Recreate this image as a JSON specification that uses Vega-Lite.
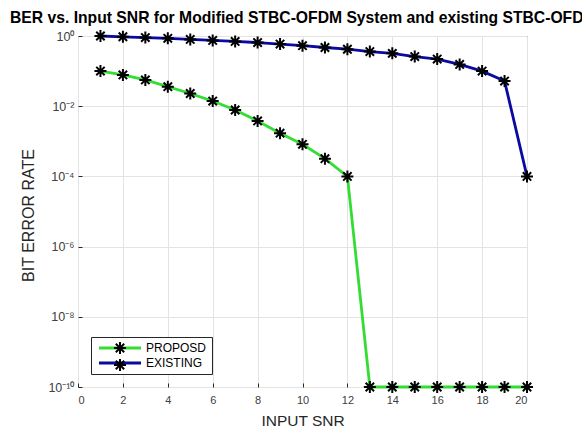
{
  "$schema": "https://vega.github.io/schema/vega-lite/v6.json",
  "width": 449,
  "height": 351,
  "autosize": {"type": "none"},
  "padding": {"left": 78, "top": 36, "right": 55, "bottom": 43},
  "background": "white",
  "config": {
    "font": "Liberation Sans",
    "view": {"stroke": "#262626", "strokeWidth": 1},
    "axis": {
      "domain": false,
      "gridColor": "#e3e3e3",
      "gridWidth": 1,
      "labelColor": "#404040",
      "labelFontSize": 11,
      "titleColor": "#262626",
      "titleFontWeight": "normal",
      "titleFontSize": 15.5,
      "tickColor": "#262626",
      "tickSize": -4
    }
  },
  "title": {
    "text": "BER vs. Input SNR for Modified STBC-OFDM System and existing STBC-OFDM System",
    "anchor": "start",
    "frame": "group",
    "dx": -68,
    "dy": 24,
    "offset": 11,
    "baseline": "alphabetic",
    "fontSize": 15.7,
    "fontWeight": "bold",
    "color": "#000000"
  },
  "data": {
    "values": [
      {"snr": 1, "ber": 0.1, "series": "PROPOSD"},
      {"snr": 2, "ber": 0.078, "series": "PROPOSD"},
      {"snr": 3, "ber": 0.056, "series": "PROPOSD"},
      {"snr": 4, "ber": 0.036, "series": "PROPOSD"},
      {"snr": 5, "ber": 0.023, "series": "PROPOSD"},
      {"snr": 6, "ber": 0.014, "series": "PROPOSD"},
      {"snr": 7, "ber": 0.0078, "series": "PROPOSD"},
      {"snr": 8, "ber": 0.0038, "series": "PROPOSD"},
      {"snr": 9, "ber": 0.0017, "series": "PROPOSD"},
      {"snr": 10, "ber": 0.00082, "series": "PROPOSD"},
      {"snr": 11, "ber": 0.00032, "series": "PROPOSD"},
      {"snr": 12, "ber": 0.0001, "series": "PROPOSD"},
      {"snr": 13, "ber": 1e-10, "series": "PROPOSD"},
      {"snr": 14, "ber": 1e-10, "series": "PROPOSD"},
      {"snr": 15, "ber": 1e-10, "series": "PROPOSD"},
      {"snr": 16, "ber": 1e-10, "series": "PROPOSD"},
      {"snr": 17, "ber": 1e-10, "series": "PROPOSD"},
      {"snr": 18, "ber": 1e-10, "series": "PROPOSD"},
      {"snr": 19, "ber": 1e-10, "series": "PROPOSD"},
      {"snr": 20, "ber": 1e-10, "series": "PROPOSD"},
      {"snr": 1, "ber": 1.0, "series": "EXISTING"},
      {"snr": 2, "ber": 0.95, "series": "EXISTING"},
      {"snr": 3, "ber": 0.9, "series": "EXISTING"},
      {"snr": 4, "ber": 0.86, "series": "EXISTING"},
      {"snr": 5, "ber": 0.8, "series": "EXISTING"},
      {"snr": 6, "ber": 0.75, "series": "EXISTING"},
      {"snr": 7, "ber": 0.7, "series": "EXISTING"},
      {"snr": 8, "ber": 0.65, "series": "EXISTING"},
      {"snr": 9, "ber": 0.59, "series": "EXISTING"},
      {"snr": 10, "ber": 0.53, "series": "EXISTING"},
      {"snr": 11, "ber": 0.47, "series": "EXISTING"},
      {"snr": 12, "ber": 0.42, "series": "EXISTING"},
      {"snr": 13, "ber": 0.36, "series": "EXISTING"},
      {"snr": 14, "ber": 0.32, "series": "EXISTING"},
      {"snr": 15, "ber": 0.26, "series": "EXISTING"},
      {"snr": 16, "ber": 0.22, "series": "EXISTING"},
      {"snr": 17, "ber": 0.155, "series": "EXISTING"},
      {"snr": 18, "ber": 0.1, "series": "EXISTING"},
      {"snr": 19, "ber": 0.052, "series": "EXISTING"},
      {"snr": 20, "ber": 0.0001, "series": "EXISTING"}
    ]
  },
  "encoding": {
    "x": {
      "field": "snr",
      "type": "quantitative",
      "scale": {"domain": [0, 20], "nice": false},
      "axis": {
        "values": [0, 2, 4, 6, 8, 10, 12, 14, 16, 18, 20],
        "title": "INPUT SNR",
        "titleX": 224.5,
        "titleY": 38,
        "titleBaseline": "alphabetic",
        "labelPadding": 11,
        "grid": true
      }
    },
    "y": {
      "field": "ber",
      "type": "quantitative",
      "scale": {"type": "log", "domain": [1e-10, 1], "nice": false},
      "axis": {
        "values": [1e-10, 1e-8, 1e-6, 1e-4, 1e-2, 1],
        "labelExpr": "datum.value >= 0.5 ? '10⁰' : datum.value >= 5e-3 ? '10⁻²' : datum.value >= 5e-5 ? '10⁻⁴' : datum.value >= 5e-7 ? '10⁻⁶' : datum.value >= 5e-9 ? '10⁻⁸' : '10⁻¹⁰'",
        "labelFontSize": 12.5,
        "title": "BIT ERROR RATE",
        "titleFontSize": 16,
        "titleX": -44.7,
        "titleY": 179,
        "titleAngle": -90,
        "titleBaseline": "alphabetic",
        "labelPadding": 8,
        "grid": true
      }
    }
  },
  "layer": [
    {
      "mark": {"type": "line", "strokeWidth": 2.8},
      "encoding": {
        "color": {
          "field": "series",
          "type": "nominal",
          "scale": {"domain": ["PROPOSD", "EXISTING"], "range": ["#33dd33", "#0a0aa0"]},
          "legend": {
            "title": null,
            "orient": "bottom-left",
            "offset": 13,
            "padding": 5,
            "strokeColor": "#262626",
            "fillColor": "white",
            "symbolType": "M-6,0L6,0",
            "symbolSize": 49,
            "symbolStrokeWidth": 2.8,
            "symbolOffset": 18,
            "labelOffset": 20,
            "labelFontSize": 12,
            "labelColor": "#000000",
            "rowPadding": 3
          }
        }
      }
    },
    {
      "mark": {"type": "point", "filled": false, "stroke": "#000000", "strokeWidth": 2, "size": 144, "opacity": 1},
      "encoding": {
        "shape": {
          "field": "series",
          "type": "nominal",
          "scale": {
            "domain": ["PROPOSD", "EXISTING"],
            "range": [
              "M-1,0L1,0M0,-1L0,1M-0.7,-0.7L0.7,0.7M-0.7,0.7L0.7,-0.7",
              "M-1,0L1,0M0,-1L0,1M-0.7,-0.7L0.7,0.7M-0.7,0.7L0.7,-0.7"
            ]
          },
          "legend": {
            "title": null,
            "orient": "none",
            "legendX": 35,
            "legendY": 305,
            "padding": 0,
            "symbolSize": 144,
            "symbolStrokeWidth": 2,
            "symbolStrokeColor": "#000000",
            "symbolFillColor": "transparent",
            "labelExpr": "''",
            "labelFontSize": 12,
            "rowPadding": -4
          }
        }
      }
    }
  ]
}
